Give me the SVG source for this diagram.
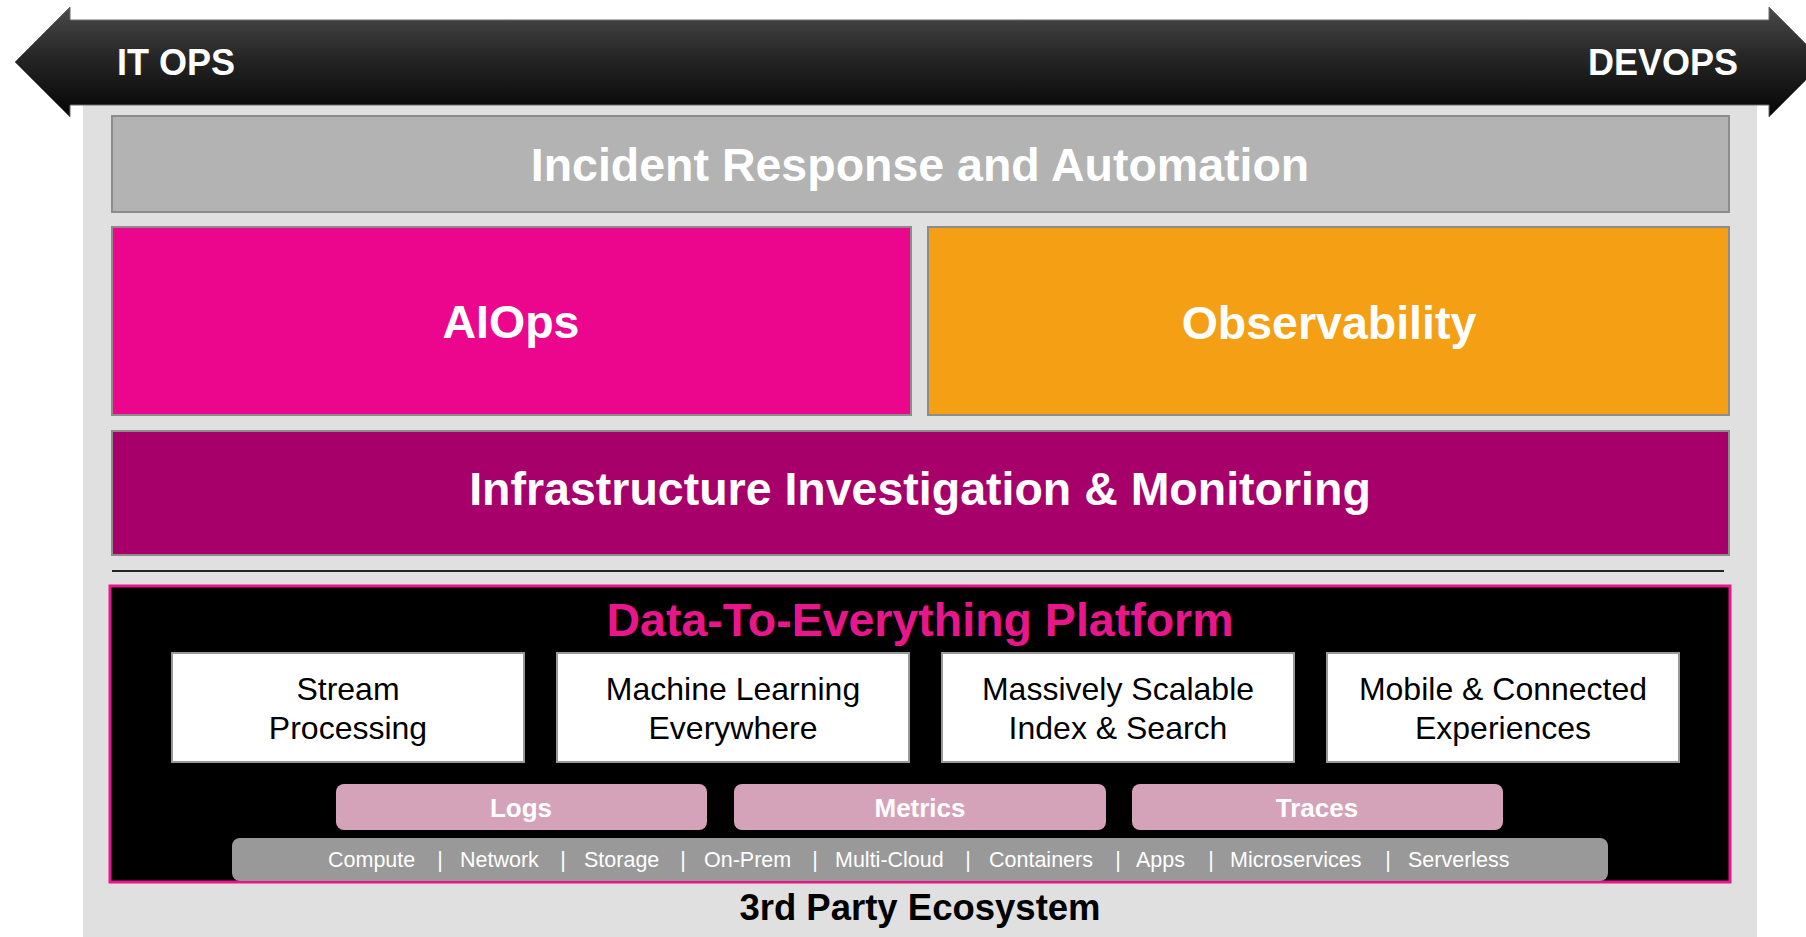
<svg xmlns="http://www.w3.org/2000/svg" width="1806" height="937" viewBox="0 0 1806 937">
<defs>
<linearGradient id="arrowGrad" x1="0" y1="0" x2="0" y2="1">
<stop offset="0" stop-color="#4a4a4a"/>
<stop offset="0.45" stop-color="#262626"/>
<stop offset="1" stop-color="#050505"/>
</linearGradient>
<style>
text{font-family:"Liberation Sans",Arial,sans-serif}
.band{font-weight:bold;font-size:36px;fill:#fff}
.big{font-weight:bold;font-size:46.5px;fill:#fff;text-anchor:middle}
.layer{stroke:#8c8c8c;stroke-width:2}
.cap{fill:#fff;stroke:#999;stroke-width:2}
.capt{font-size:32px;fill:#000;text-anchor:middle}
.pill{fill:#d5a3b9}
.pillt{font-weight:bold;font-size:26px;fill:#fff;text-anchor:middle}
.src{font-size:21.5px;fill:#fff}
.sep{font-size:21.5px;fill:#fff;text-anchor:middle}
</style>
</defs>
<rect width="1806" height="937" fill="#fff"/>
<g id="panel"><rect x="83" y="105" width="1674" height="832" fill="#e0e0e0"/></g>
<g id="banner">
<path d="M15,62 L70,7 L70,20 L1769,20 L1769,7 L1824,62 L1769,117 L1769,105 L70,105 L70,117 Z" fill="url(#arrowGrad)" stroke="#6a6a6a" stroke-width="1"/>
<text class="band" x="117" y="75">IT OPS</text>
<text class="band" x="1738" y="75" text-anchor="end">DEVOPS</text>
</g>
<g id="incident">
<rect class="layer" x="112" y="116" width="1617" height="96" fill="#b3b3b3"/>
<text class="big" x="920" y="181">Incident Response and Automation</text>
</g>
<g id="aiops">
<rect class="layer" x="112" y="227" width="799" height="188" fill="#ec068d"/>
<text class="big" x="511" y="338">AIOps</text>
</g>
<g id="observability">
<rect class="layer" x="928" y="227" width="801" height="188" fill="#f59f15"/>
<text class="big" x="1329" y="339">Observability</text>
</g>
<g id="infrastructure">
<rect class="layer" x="112" y="431" width="1617" height="124" fill="#a8006b"/>
<text class="big" x="920" y="505">Infrastructure Investigation &amp; Monitoring</text>
</g>
<g id="separator"><line x1="112" y1="571" x2="1724" y2="571" stroke="#222" stroke-width="2"/></g>
<g id="platform">
<rect x="110" y="586" width="1620" height="296" fill="#000" stroke="#e8168b" stroke-width="3"/>
<text x="920" y="636" font-weight="bold" font-size="46.5" fill="#e8168b" text-anchor="middle">Data-To-Everything Platform</text>
</g>
<g id="stream">
<rect class="cap" x="172" y="653" width="352" height="109"/>
<text class="capt" x="348" y="700">Stream</text>
<text class="capt" x="348" y="739">Processing</text>
</g>
<g id="ml">
<rect class="cap" x="557" y="653" width="352" height="109"/>
<text class="capt" x="733" y="700">Machine Learning</text>
<text class="capt" x="733" y="739">Everywhere</text>
</g>
<g id="search">
<rect class="cap" x="942" y="653" width="352" height="109"/>
<text class="capt" x="1118" y="700">Massively Scalable</text>
<text class="capt" x="1118" y="739">Index &amp; Search</text>
</g>
<g id="mobile">
<rect class="cap" x="1327" y="653" width="352" height="109"/>
<text class="capt" x="1503" y="700">Mobile &amp; Connected</text>
<text class="capt" x="1503" y="739">Experiences</text>
</g>
<g id="logs">
<rect class="pill" x="336" y="784" width="371" height="46" rx="8"/>
<text class="pillt" x="521" y="817">Logs</text>
</g>
<g id="metrics">
<rect class="pill" x="734" y="784" width="372" height="46" rx="8"/>
<text class="pillt" x="920" y="817">Metrics</text>
</g>
<g id="traces">
<rect class="pill" x="1132" y="784" width="371" height="46" rx="8"/>
<text class="pillt" x="1317" y="817">Traces</text>
</g>
<g id="sources">
<rect x="232" y="838" width="1376" height="43" rx="8" fill="#999"/>
<text class="src" y="867"><tspan x="328">Compute</tspan><tspan x="460">Network</tspan><tspan x="584">Storage</tspan><tspan x="704">On-Prem</tspan><tspan x="835">Multi-Cloud</tspan><tspan x="989">Containers</tspan><tspan x="1136">Apps</tspan><tspan x="1230">Microservices</tspan><tspan x="1408">Serverless</tspan></text>
<text class="sep" y="867"><tspan x="440">|</tspan><tspan x="563">|</tspan><tspan x="683">|</tspan><tspan x="815">|</tspan><tspan x="968">|</tspan><tspan x="1118">|</tspan><tspan x="1211">|</tspan><tspan x="1388">|</tspan></text>
</g>
<g id="ecosystem">
<text x="920" y="920" font-weight="bold" font-size="36.5" fill="#000" text-anchor="middle">3rd Party Ecosystem</text>
</g>
<g id="connectors"></g>
</svg>
